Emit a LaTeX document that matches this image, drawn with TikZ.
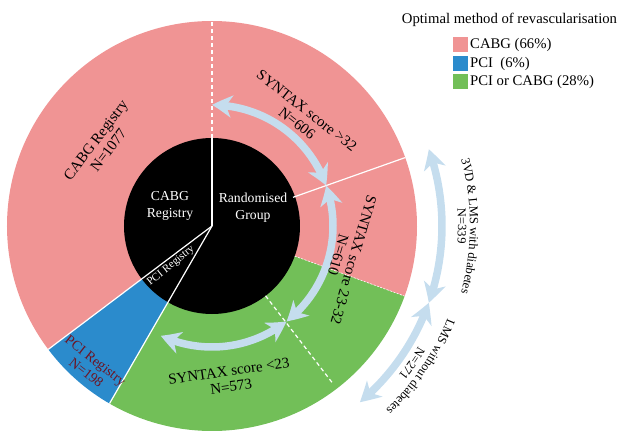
\documentclass[tikz,border=0pt]{standalone}
\usepackage{fontspec}
\setmainfont{Liberation Serif}
\usetikzlibrary{arrows.meta,bending,decorations.text}
\definecolor{cpink}{RGB}{240,148,148}
\definecolor{cblue}{RGB}{43,139,204}
\definecolor{cgreen}{RGB}{114,191,88}
\definecolor{carrow}{RGB}{197,221,238}
\definecolor{cdred}{RGB}{110,20,35}
\begin{document}
\begin{tikzpicture}[x=1pt,y=1pt,
  tipshape/.tip={Stealth[length=20pt,width=22pt,inset=6pt,bend]},
  bigarrow/.style={draw=carrow, line width=7.5pt, tipshape-tipshape},
  ringlabel/.style={align=center, font=\fontsize{15}{16}\selectfont, inner sep=0pt},
  innerlabel/.style={align=center, text=white, font=\fontsize{13.7}{17}\selectfont, inner sep=0pt},
  legendtext/.style={anchor=west, font=\fontsize{14.7}{16}\selectfont, inner sep=0pt},
  swatch/.style={minimum size=15pt, inner sep=0pt},
  wline/.style={draw=white, line width=1.2pt},
  arclabel/.style={decorate, decoration={text along path, text align=center, text={#1}}},
]
\useasboundingbox (-212,-205) rectangle (407,226);
\coordinate (O) at (0,0);
% sectors
\fill[cpink] (O) -- (90:205) arc[start angle=90,end angle=217,radius=205] -- cycle;
\fill[cblue] (O) -- (217:205) arc[start angle=217,end angle=240,radius=205] -- cycle;
\fill[cgreen] (O) -- (240:205) arc[start angle=240,end angle=340,radius=205] -- cycle;
\fill[cpink] (O) -- (340:205) arc[start angle=340,end angle=450,radius=205] -- cycle;
\fill[black] (O) circle[radius=88];
% boundary lines
\draw[wline] (O) -- (90:88);
\draw[wline, dash pattern=on 4pt off 3pt] (90:88) -- (90:205);
\draw[wline] (O) -- (217:205);
\draw[wline] (O) -- (240:205);
\draw[wline] (19.5:86) -- (19.5:205);
\draw[wline, dash pattern=on 4pt off 3pt] (307.5:88) -- (307.5:200);
\draw[draw=white, line width=0.6pt, dash pattern=on 2pt off 1.5pt] (340:88) -- (340:205);
% inner arrows
\coordinate (i1) at (90:121);
\coordinate (i2) at (19.5:121);
\coordinate (i3) at (-52:121);
\coordinate (i4) at (-115:121);
\draw[bigarrow] (i1) arc[start angle=90,end angle=19.5,radius=121];
\draw[bigarrow] (i2) arc[start angle=19.5,end angle=-52,radius=121];
\draw[bigarrow] (i3) arc[start angle=-52,end angle=-115,radius=121];
% outer arrows
\coordinate (o1) at (19.5:230);
\coordinate (o2) at (-19.5:230);
\coordinate (o3) at (-50:230);
\draw[bigarrow] (o1) arc[start angle=19.5,end angle=-19.5,radius=230];
\draw[bigarrow] (o2) arc[start angle=-19.5,end angle=-50,radius=230];
% inner labels
\node[innerlabel] (cabgin) at (-42,20) {CABG\\Registry};
\node[innerlabel] (randin) at (41,18) {Randomised\\Group};
\node[innerlabel, font=\fontsize{11}{12}\selectfont, rotate=39] (pciin) at (-41,-40) {PCI Registry};
% ring labels
\node[ringlabel, rotate=53] (cabgreg) at (-110,81) {CABG Registry\\N=1077};
\node[ringlabel, rotate=-38] (s32) at (90,109) {SYNTAX score >32\\N=606};
\node[ringlabel, rotate=-106] (s2332) at (134,-31.5) {SYNTAX score 23-32\\N=610};
\node[ringlabel, rotate=8] (s23) at (18,-153) {SYNTAX score <23\\N=573};
\node[ringlabel, rotate=-38, text=cdred, font=\fontsize{14}{15}\selectfont] (pcireg) at (-121,-140.5) {PCI Registry\\N=198};
% outer arc labels
\path[arclabel={|\fontsize{12.5}{14}\selectfont|3VD {\&} LMS with diabetes}] (30:258) arc[start angle=30,end angle=-30,radius=258];
\path[arclabel={|\fontsize{12.5}{14}\selectfont|N=339}] (20:246) arc[start angle=20,end angle=-20,radius=246];
\path[arclabel={|\fontsize{12.5}{14}\selectfont|LMS without diabetes}] (-4:253) arc[start angle=-4,end angle=-64,radius=253];
\path[arclabel={|\fontsize{12.5}{14}\selectfont|N=271}] (-14.5:239) arc[start angle=-14.5,end angle=-54.5,radius=239];
% legend
\node[font=\fontsize{14.7}{16}\selectfont, inner sep=0pt] (title) at (297.5,206) {Optimal method of revascularisation};
\node[swatch, fill=cpink] (sw1) at (248.5,181.5) {};
\node[swatch, fill=cblue] (sw2) at (248.5,162.5) {};
\node[swatch, fill=cgreen] (sw3) at (248.5,144) {};
\node[legendtext] (lg1) at (258,181.5) {CABG (66\%)};
\node[legendtext] (lg2) at (258,162.5) {PCI~~(6\%)};
\node[legendtext] (lg3) at (258,144) {PCI or CABG (28\%)};
\end{tikzpicture}
\end{document}
